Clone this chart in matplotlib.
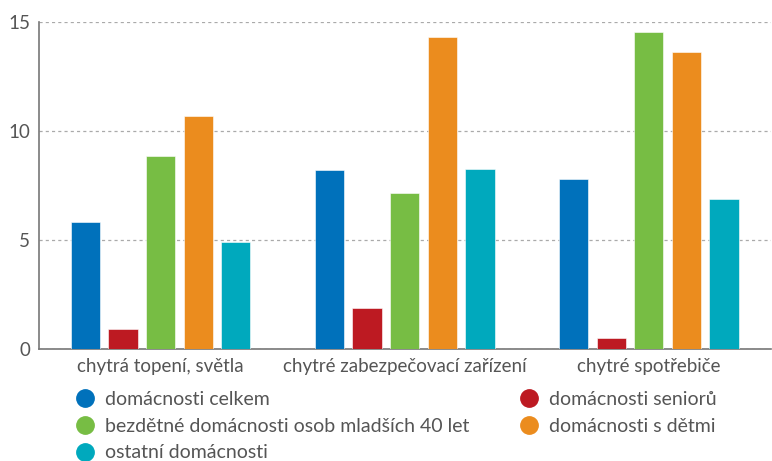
import numpy as np
import matplotlib
matplotlib.use('Agg')
import matplotlib.pyplot as plt
from matplotlib.lines import Line2D

plt.rcParams['font.family'] = ['Lato', 'DejaVu Sans']

# kategorie a hodnoty (%)
kategorie = ['chytrá topení, světla', 'chytré zabezpečovací zařízení', 'chytré spotřebiče']
celkem = [5.8, 8.2, 7.8]
seniori = [0.9, 1.86, 0.5]
bezdetne = [8.86, 7.15, 14.55]
s_detmi = [10.7, 14.34, 13.63]
ostatni = [4.9, 8.27, 6.86]

nazvy = ['domácnosti celkem', 'domácnosti seniorů',
         'bezdětné domácnosti osob mladších 40 let', 'domácnosti s dětmi',
         'ostatní domácnosti']
barvy = ['#0071BB', '#BD1A22', '#77BD44', '#EB8C1E', '#00A9BD']
rady = [celkem, seniori, bezdetne, s_detmi, ostatni]

sed = '#555555'

fig = plt.figure(figsize=(7.72, 4.61), dpi=100)
ax = fig.add_axes([0.050, 0.244, 0.9485, 0.7076])

x = np.arange(len(kategorie))
krok = 0.154
sirka = 0.12
for i, (hodnoty, barva) in enumerate(zip(rady, barvy)):
    ax.bar(x + (i - 2) * krok, hodnoty, width=sirka, color=barva,
           edgecolor='white', linewidth=0.4, zorder=3)

ax.set_xlim(-0.5, 2.5)
ax.set_ylim(0, 15)
ax.set_yticks([0, 5, 10, 15])
ax.yaxis.grid(True, linestyle=(0, (2.5, 2.5)), color='#aaaaaa', linewidth=0.9)
ax.set_axisbelow(True)
ax.set_xticks(x)
ax.set_xticklabels(kategorie)
ax.tick_params(axis='y', length=0, pad=6, labelsize=13.5, labelcolor=sed)
ax.tick_params(axis='x', length=0, pad=7, labelsize=13.5, labelcolor=sed)
for s in ['top', 'right']:
    ax.spines[s].set_visible(False)
for s in ['left', 'bottom']:
    ax.spines[s].set_color('#777777')
    ax.spines[s].set_linewidth(1.2)

# legenda ve dvou sloupcich
poradi = [0, 2, 4, 1, 3]
handles = [Line2D([], [], marker='o', linestyle='none', markersize=12.5,
                  markerfacecolor=barvy[k], markeredgecolor=barvy[k]) for k in poradi]
fig.legend(handles, [nazvy[k] for k in poradi], ncol=2, loc='upper left',
           bbox_to_anchor=(0.097, 0.152), frameon=False, fontsize=14,
           labelcolor=sed, handletextpad=0.53, handlelength=1.0,
           columnspacing=2.6, labelspacing=0.5, borderaxespad=0, borderpad=0)

fig.savefig('out.png', dpi=100)
